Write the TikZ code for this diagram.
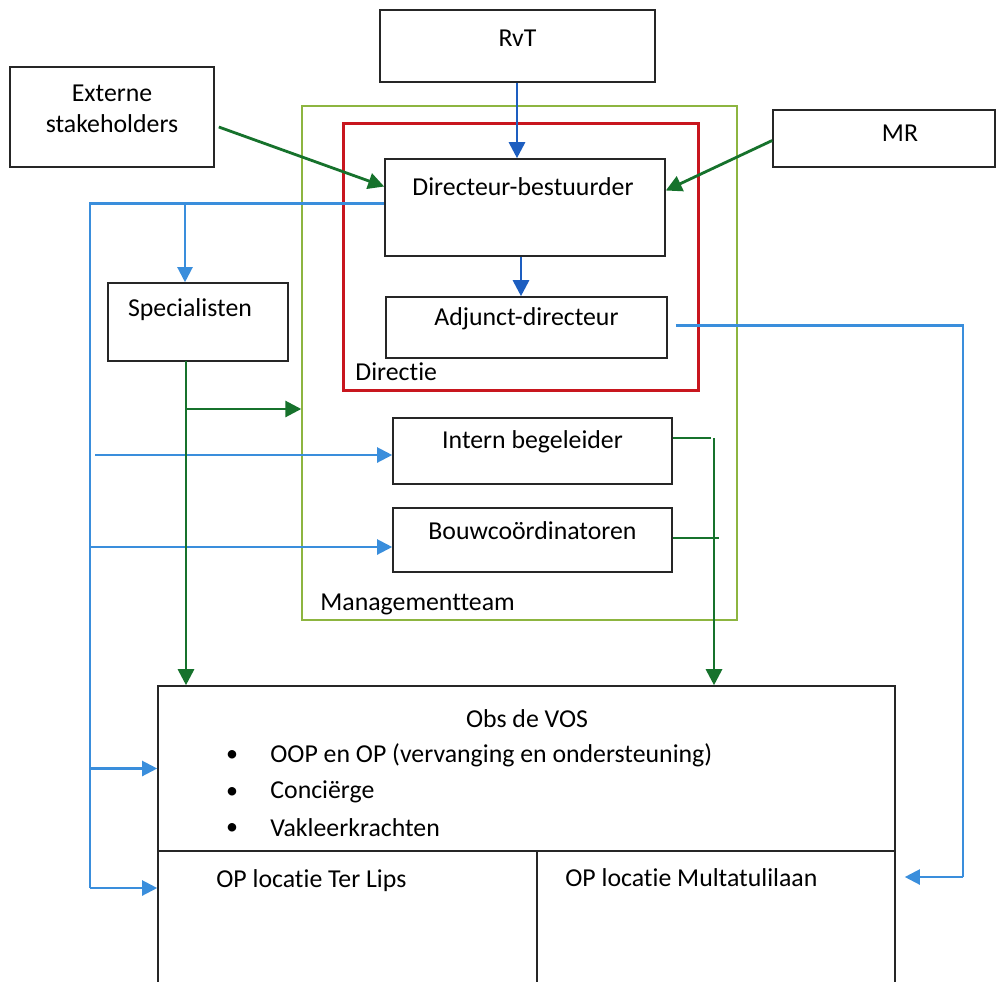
\documentclass[tikz,border=0pt]{standalone}
\usepackage{fontspec}
\setmainfont[Ligatures=NoCommon]{Carlito}
\usetikzlibrary{arrows.meta,positioning,fit,calc}

\begin{document}
\begin{tikzpicture}[x=0.5pt,y=-0.5pt,font=\fontsize{12.9}{15.5}\selectfont]
  % Colors
  \definecolor{rvtblue}{HTML}{1D5EC0}
  \definecolor{lineblue}{HTML}{3A8EDC}
  \definecolor{arrowgreen}{HTML}{16722C}
  \definecolor{dirred}{HTML}{C8161E}
  \definecolor{mtgreen}{HTML}{8DB540}

  % Styles
  \tikzstyle{box}=[draw=black!85,line width=0.8pt,inner sep=0pt]
  \tikzstyle{txt}=[inner sep=0pt]
  \tikzstyle{blue arrow}=[draw=rvtblue,line width=1.4pt,-{Triangle[length=8pt,width=8pt]}]
  \tikzstyle{light arrow}=[draw=lineblue,line width=1.1pt,-{Triangle[length=7.5pt,width=7.5pt]}]
  \tikzstyle{light line}=[draw=lineblue,line width=1.1pt]
  \tikzstyle{green arrow}=[draw=arrowgreen,line width=1.4pt,-{Triangle[length=8pt,width=8pt]}]
  \tikzstyle{green line}=[draw=arrowgreen,line width=1.4pt]

  \clip (0,0) rectangle (997,981);
  \fill[white] (0,0) rectangle (997,981);

  % Outer frames
  \node[draw=mtgreen,line width=0.7pt,inner sep=0pt,fit={(302,106) (737,620)}] (mt) {};
  \node[txt,anchor=west] (mttext) at (320,604) {Managementteam};
  \node[draw=dirred,line width=1.5pt,inner sep=0pt,fit={(343,123) (698,390)}] (dir) {};
  \node[txt,anchor=west] (dirtext) at (355,372) {Directie};

  % Boxes
  \node[box,fit={(380,10) (655,82)}] (rvt) {RvT};
  \node[box,align=center,fit={(10,67) (214,167)}] (ext) {Externe\\stakeholders};
  \node[box,fit={(773,110) (995,167)}] (mr) {};
  \node[txt] (mrtext) at (900,133) {MR};
  \node[box,fit={(385,159) (665,256)}] (db) {};
  \node[txt] (dbtext) at (523,187) {Directeur-bestuurder};
  \node[box,fit={(386,297) (667,358)}] (adj) {Adjunct-directeur};
  \node[box,fit={(108,283) (288,361)}] (spec) {};
  \node[txt] (spectext) at (190,310) {Specialisten};
  \node[box,fit={(393,418) (672,484)}] (ib) {Intern begeleider};
  \node[box,fit={(393,508) (672,572)}] (bc) {Bouwcoördinatoren};

  % School
  \node[box,fit={(158,686) (895,851)}] (obs) {};
  \node[box,fit={(158,851) (537,995)}] (lips) {};
  \node[box,fit={(537,851) (895,995)}] (multa) {};
  \node[txt] (obstext) at (527,719) {Obs de VOS};
  \node[txt] (b1) at (232,756) {\large\textbullet};
  \node[txt] (b2) at (232,793) {\large\textbullet};
  \node[txt] (b3) at (232,829) {\large\textbullet};
  \node[txt,anchor=west] (i1) at (270,755) {OOP en OP (vervanging en ondersteuning)};
  \node[txt,anchor=west] (i2) at (270,792) {Conciërge};
  \node[txt,anchor=west] (i3) at (270,828) {Vakleerkrachten};
  \node[txt,anchor=west] (lipstext) at (216,881) {OP locatie Ter Lips};
  \node[txt,anchor=west] (multatext) at (565,878) {OP locatie Multatulilaan};

  % Helper points
  \coordinate (lt) at (90,204);
  \coordinate (lb) at (90,888);
  \coordinate (sp) at (185,204);
  \coordinate (sg) at (186,361);
  \coordinate (br) at (186,409);
  \coordinate (gr) at (714,438);
  \coordinate (rt) at (963,877);

  % Connectors
  \draw[blue arrow] (rvt.south -| 517,0) -- (517,0 |- db.north);
  \draw[blue arrow] (db.south -| 521,0) -- (521,0 |- adj.north);
  \draw[green arrow] ($(ext.east)+(4,10)$) -- ($(db.west)+(0,-21)$);
  \draw[green arrow] ($(mr.west)+(0,2)$) -- ($(db.east)+(0,-17)$);

  \draw[light line] ($(db.west)+(0,-4)$) -| (lb);
  \draw[light arrow] (lb) -- (lips.west |- lb);
  \draw[light arrow] (sp) -- (sp |- spec.north);
  \draw[light arrow] ($(lt |- ib.west)+(5,4)$) -- ($(ib.west)+(0,4)$);
  \draw[light arrow] ($(lt |- bc.west)+(0,7)$) -- ($(bc.west)+(0,7)$);
  \draw[light arrow] (lt |- obs.west) -- (obs.west);
  \draw[light line] ($(adj.east)+(8,-2)$) -| (rt);
  \draw[light arrow] (rt) -- ($(multa.east |- rt)+(9,0)$);

  \draw[green arrow] (sg) -- (sg |- obs.north);
  \draw[green arrow] (br) -- (mt.west |- br);
  \draw[green line] (ib.east |- gr) -- ++(38,0);
  \draw[green line] ($(bc.east)+(0,-2)$) -- ++(46,0);
  \draw[green arrow] (gr) -- (gr |- obs.north);
\end{tikzpicture}
\end{document}
